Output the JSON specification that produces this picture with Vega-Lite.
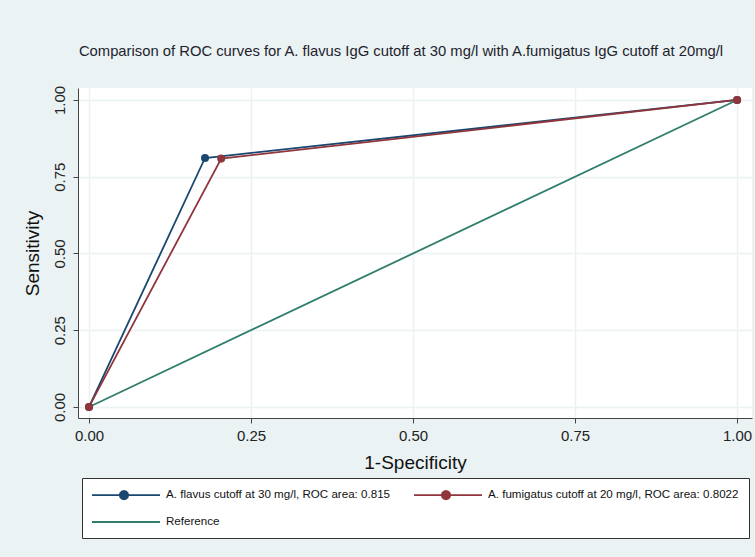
{
  "$schema": "https://vega.github.io/schema/vega-lite/v6.json",
  "width": 674,
  "height": 330,
  "autosize": {"type": "none"},
  "padding": {"left": 78, "top": 88, "right": 3, "bottom": 139},
  "background": "#EAF2F3",
  "title": {
    "text": "Comparison of ROC curves for A. flavus IgG cutoff at 30 mg/l with A.fumigatus IgG cutoff at 20mg/l",
    "font": "Liberation Sans",
    "fontSize": 14.8,
    "fontWeight": "normal",
    "color": "#1e1e2e",
    "anchor": "middle",
    "dx": -14,
    "offset": 27
  },
  "config": {
    "view": {"fill": "white", "stroke": null},
    "axis": {
      "labelFont": "Liberation Sans",
      "titleFont": "Liberation Sans",
      "labelFontSize": 15,
      "titleFontSize": 19,
      "titleFontWeight": "normal",
      "labelColor": "#222",
      "titleColor": "#111",
      "domainColor": "#444",
      "tickColor": "#444",
      "tickSize": 5,
      "gridColor": "#EAF2F3",
      "gridWidth": 1.5
    }
  },
  "datasets": {
    "roc": [
      {"fpr": 0, "tpr": 0, "series": "A. flavus cutoff at 30 mg/l, ROC area: 0.815"},
      {"fpr": 0.179, "tpr": 0.811, "series": "A. flavus cutoff at 30 mg/l, ROC area: 0.815"},
      {"fpr": 1, "tpr": 1, "series": "A. flavus cutoff at 30 mg/l, ROC area: 0.815"},
      {"fpr": 0, "tpr": 0, "series": "A. fumigatus cutoff at 20 mg/l, ROC area: 0.8022"},
      {"fpr": 0.204, "tpr": 0.809, "series": "A. fumigatus cutoff at 20 mg/l, ROC area: 0.8022"},
      {"fpr": 1, "tpr": 1, "series": "A. fumigatus cutoff at 20 mg/l, ROC area: 0.8022"},
      {"fpr": 0, "tpr": 0, "series": "Reference"},
      {"fpr": 1, "tpr": 1, "series": "Reference"}
    ]
  },
  "data": {"name": "roc"},
  "encoding": {
    "x": {
      "field": "fpr", "type": "quantitative", "title": "1-Specificity",
      "scale": {"domain": [-0.017, 1.023], "nice": false, "zero": false},
      "axis": {"values": [0, 0.25, 0.5, 0.75, 1], "format": ".2f", "labelPadding": 5, "titlePadding": 10, "labelFlush": false}
    },
    "y": {
      "field": "tpr", "type": "quantitative", "title": "Sensitivity",
      "scale": {"domain": [-0.036, 1.039], "nice": false, "zero": false},
      "axis": {"values": [0, 0.25, 0.5, 0.75, 1], "format": ".2f", "labelAngle": -90, "labelAlign": "center", "labelBaseline": "bottom", "labelPadding": 6, "titlePadding": 10, "labelFlush": false}
    },
    "color": {
      "field": "series", "type": "nominal",
      "scale": {
        "domain": ["A. flavus cutoff at 30 mg/l, ROC area: 0.815", "A. fumigatus cutoff at 20 mg/l, ROC area: 0.8022", "Reference"],
        "range": ["#1A476F", "#90353B", "#2E7D6D"]
      }
    }
  },
  "layer": [
    {
      "mark": {"type": "line", "strokeWidth": 1.8},
      "encoding": {
        "order": {"field": "fpr", "type": "quantitative"},
        "color": {
          "field": "series", "type": "nominal",
          "scale": {
            "domain": ["A. flavus cutoff at 30 mg/l, ROC area: 0.815", "A. fumigatus cutoff at 20 mg/l, ROC area: 0.8022", "Reference"],
            "range": ["#1A476F", "#90353B", "#2E7D6D"]
          },
          "legend": {
            "title": null,
            "orient": "none",
            "legendX": 4,
            "legendY": 390,
            "direction": "horizontal",
            "columns": 2,
            "columnPadding": 19,
            "rowPadding": 12,
            "padding": 10,
            "fillColor": "white",
            "strokeColor": "#333",
            "labelFont": "Liberation Sans",
            "labelFontSize": 11.6,
            "labelColor": "#111",
            "labelOffset": 60,
            "labelLimit": 400,
            "symbolSize": 144,
            "symbolStrokeWidth": 1.8,
            "symbolType": "M0,0H11.33",
            "encode": {
              "symbols": {
                "update": {
                  "shape": {"signal": "datum.value === 'Reference' ? 'M0,0H11.33' : 'M0,0H11.33M6.03,0L5.936,0.35L5.68,0.606L5.33,0.7L4.98,0.606L4.724,0.35L4.63,0L4.724,-0.35L4.98,-0.606L5.33,-0.7L5.68,-0.606L5.936,-0.35Z'"},
                  "size": {"value": 144},
                  "x": {"value": 0},
                  "fill": {"scale": "color", "field": "value"},
                  "strokeWidth": {"value": 1.8}
                }
              }
            }
          }
        }
      }
    },
    {
      "transform": [{"filter": "datum.series !== 'Reference'"}],
      "mark": {"type": "point", "filled": true, "size": 65, "opacity": 1},
      "encoding": {
        "color": {
          "field": "series", "type": "nominal", "legend": null,
          "scale": {
            "domain": ["A. flavus cutoff at 30 mg/l, ROC area: 0.815", "A. fumigatus cutoff at 20 mg/l, ROC area: 0.8022", "Reference"],
            "range": ["#1A476F", "#90353B", "#2E7D6D"]
          }
        }
      }
    }
  ]
}
